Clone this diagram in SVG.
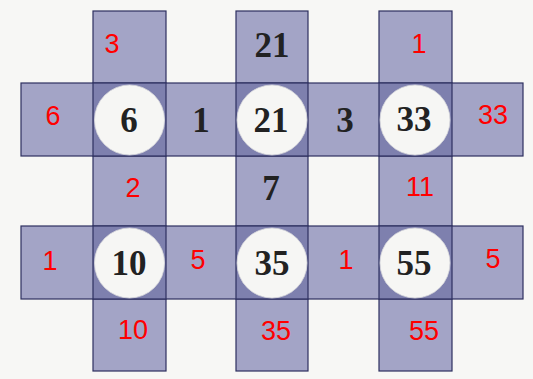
<svg xmlns="http://www.w3.org/2000/svg" width="533" height="379" viewBox="0 0 533 379">
<style>
.strip{fill:#a3a4c6;stroke:#2e3060;stroke-width:1.2}
.cross{fill:#7e80ae;stroke:#2e3060;stroke-width:1.2}
.disc{fill:#f6f6f4;stroke:#d8d8dc;stroke-width:0.8}
.b{font-family:"Liberation Serif",serif;font-weight:bold;font-size:35px;fill:#222;text-anchor:middle;dominant-baseline:central}
.r{font-family:"Liberation Sans",sans-serif;font-size:27px;fill:#ff0000;text-anchor:middle;dominant-baseline:central}
</style>
<rect width="533" height="379" fill="#f7f7f5"/>
<g id="strips">
<rect class="strip" x="93" y="11" width="73" height="360"/>
<rect class="strip" x="236" y="11" width="72" height="360"/>
<rect class="strip" x="379" y="11" width="73" height="360"/>
<rect class="strip" x="21" y="83" width="502" height="73"/>
<rect class="strip" x="21" y="226" width="502" height="73"/>
<rect class="cross" x="93" y="83" width="73" height="73"/>
<rect class="cross" x="236" y="83" width="72" height="73"/>
<rect class="cross" x="379" y="83" width="73" height="73"/>
<rect class="cross" x="93" y="226" width="73" height="73"/>
<rect class="cross" x="236" y="226" width="72" height="73"/>
<rect class="cross" x="379" y="226" width="73" height="73"/>
</g>
<g id="n1"><circle class="disc" cx="129.5" cy="120" r="35"/><text class="b" x="129" y="120">6</text></g>
<g id="n2"><circle class="disc" cx="272" cy="120" r="35"/><text class="b" x="271" y="120">21</text></g>
<g id="n3"><circle class="disc" cx="415" cy="120" r="35"/><text class="b" x="414" y="119">33</text></g>
<g id="n4"><circle class="disc" cx="129.5" cy="263" r="35"/><text class="b" x="129" y="263">10</text></g>
<g id="n5"><circle class="disc" cx="272" cy="263" r="35"/><text class="b" x="272" y="263">35</text></g>
<g id="n6"><circle class="disc" cx="415" cy="263" r="35"/><text class="b" x="414" y="263">55</text></g>
<g id="labels">
<text class="b" x="272" y="45">21</text>
<text class="b" x="201" y="120">1</text>
<text class="b" x="345" y="120">3</text>
<text class="b" x="271" y="188">7</text>
<text class="r" x="112" y="44">3</text>
<text class="r" x="419" y="44">1</text>
<text class="r" x="53" y="116">6</text>
<text class="r" x="493" y="115">33</text>
<text class="r" x="133" y="188">2</text>
<text class="r" x="420" y="187">11</text>
<text class="r" x="50" y="261">1</text>
<text class="r" x="198" y="260">5</text>
<text class="r" x="346" y="260">1</text>
<text class="r" x="493" y="259">5</text>
<text class="r" x="133" y="330">10</text>
<text class="r" x="276" y="331">35</text>
<text class="r" x="424" y="331">55</text>
</g>
</svg>
